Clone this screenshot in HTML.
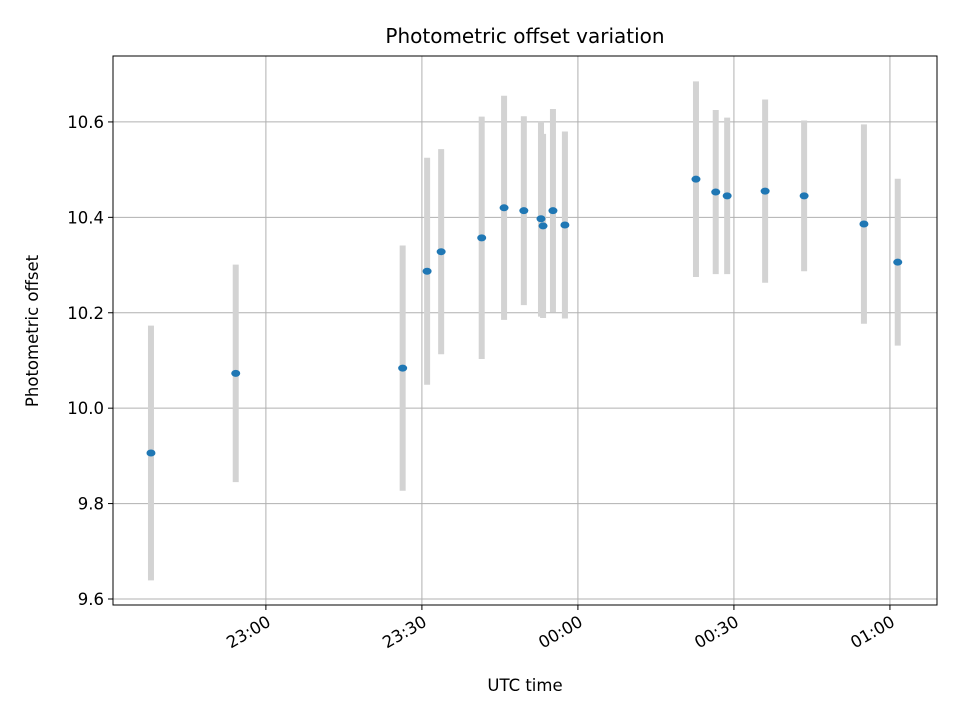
<!DOCTYPE html>
<html><head><meta charset="utf-8">
<style>
body{margin:0;background:#fff;}
svg text{font-family:"DejaVu Sans","Liberation Sans",sans-serif;fill:#000;}
</style></head>
<body>
<svg id="chart" width="960" height="720" xmlns="http://www.w3.org/2000/svg">
<rect width="960" height="720" fill="#fff"/>
<g id="grid"></g>
<g id="bars"></g>
<g id="points"></g>
<rect x="113" y="56" width="824" height="549" fill="none" stroke="#000" stroke-width="1"/>
<g id="axes"></g>
<text x="525" y="43" style="font-size:20px" text-anchor="middle">Photometric offset variation</text>
<text x="525" y="691" style="font-size:16.5px" text-anchor="middle">UTC time</text>
<text transform="translate(38,331) rotate(-90)" style="font-size:16.5px" text-anchor="middle">Photometric offset</text>
</svg>
<script>
// minutes after 22:00 UTC
const times=[37.9,54.2,86.3,91,93.7,101.5,105.8,109.6,112.9,113.3,115.2,117.5,142.7,146.5,148.7,156,163.5,175,181.5];
const offsets=[9.906,10.073,10.084,10.287,10.328,10.357,10.42,10.414,10.397,10.382,10.414,10.384,10.48,10.453,10.445,10.455,10.445,10.386,10.306];
const errors=[0.267,0.228,0.257,0.238,0.215,0.254,0.235,0.198,0.205,0.193,0.213,0.196,0.205,0.172,0.164,0.192,0.158,0.209,0.175];
const xTickMinutes=[60,90,120,150,180];
const xTickLabels=["23:00","23:30","00:00","00:30","01:00"];
const yTicks=[9.6,9.8,10.0,10.2,10.4,10.6];
const yTickLabels=["9.6","9.8","10.0","10.2","10.4","10.6"];

const L=113,R=937,T=56,B=605;
const xMin=30.6,xMax=189.05,yMin=9.5874,yMax=10.7382;
const xs=v=>L+(v-xMin)/(xMax-xMin)*(R-L);
const ys=v=>B-(v-yMin)/(yMax-yMin)*(B-T);
const NS="http://www.w3.org/2000/svg";
function mk(tag,attrs,parent){const e=document.createElementNS(NS,tag);for(const k in attrs)e.setAttribute(k,attrs[k]);parent.appendChild(e);return e;}
const grid=document.getElementById('grid'),axes=document.getElementById('axes'),bars=document.getElementById('bars'),pts=document.getElementById('points');

xTickMinutes.forEach((m,i)=>{
  const x=xs(m);
  const g=mk('line',{x1:x,x2:x,y1:T,y2:B,stroke:'#b0b0b0','stroke-width':1},grid);
  
  
  const t=mk('line',{x1:x,x2:x,y1:B,y2:B+5,stroke:'#000'},axes);
  
  
  const lb=mk('text',{transform:`translate(${x+6},${B+20}) rotate(-30)`,style:'font-size:16.5px','text-anchor':'end'},axes);
  lb.textContent=xTickLabels[i];
  
  
});
yTicks.forEach((v,i)=>{
  const y=ys(v);
  const g=mk('line',{x1:L,x2:R,y1:y,y2:y,stroke:'#b0b0b0','stroke-width':1},grid);
  
  
  const t=mk('line',{x1:L-5,x2:L,y1:y,y2:y,stroke:'#000'},axes);
  
  
  const lb=mk('text',{x:L-9,y:y+6,style:'font-size:16.5px','text-anchor':'end'},axes);
  lb.textContent=yTickLabels[i];
  
  
});
times.forEach((m,i)=>{
  const x=xs(m);
  const b=mk('line',{x1:x,x2:x,y1:ys(offsets[i]+errors[i]),y2:ys(offsets[i]-errors[i]),stroke:'#d3d3d3','stroke-width':6},bars);
  
  
  const p=mk('ellipse',{cx:x,cy:ys(offsets[i]),rx:4.5,ry:3.5,fill:'#1f77b4'},pts);
  
  
});
</script>
</body></html>
